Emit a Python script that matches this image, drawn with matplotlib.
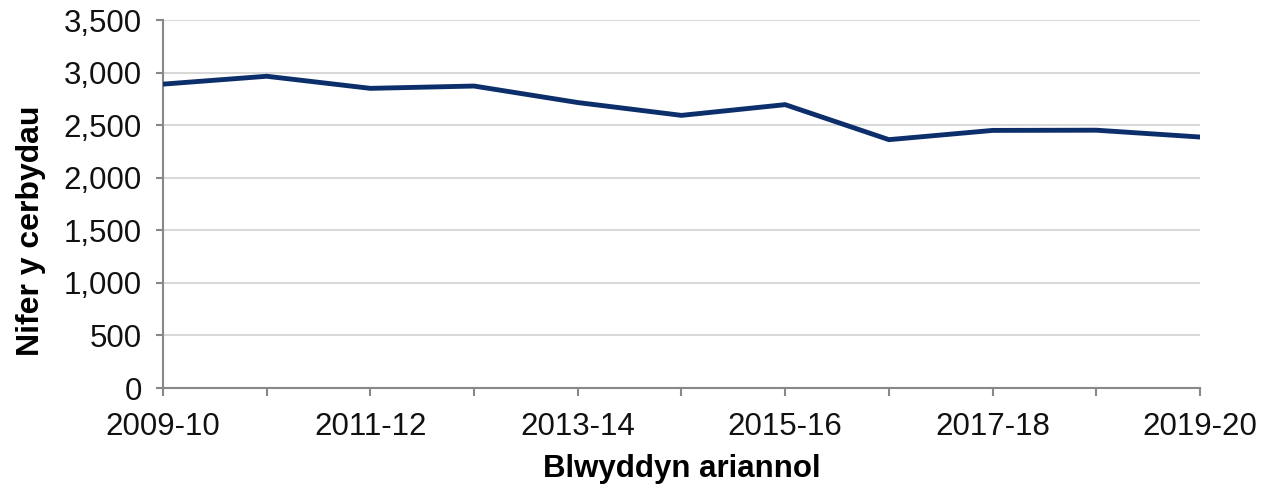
import matplotlib
matplotlib.use("Agg")
import matplotlib.pyplot as plt
from matplotlib.ticker import FuncFormatter

plt.rcParams['font.family'] = ['Liberation Sans', 'DejaVu Sans']

# Data
years = ['2009-10', '2010-11', '2011-12', '2012-13', '2013-14', '2014-15',
         '2015-16', '2016-17', '2017-18', '2018-19', '2019-20']
vehicles = [2890, 2965, 2850, 2872, 2715, 2593, 2695, 2362, 2450, 2452, 2387]

fig = plt.figure(figsize=(12.7, 4.88), dpi=100)
ax = fig.add_axes([0.1283, 0.2049, 0.8166, 0.7541])

x = list(range(len(years)))
ax.plot(x, vehicles, color='#0c2f6b', linewidth=3.5, solid_joinstyle='miter', zorder=3)

ax.set_xlim(0, len(years) - 1)
ax.set_ylim(0, 3500)
ax.set_yticks(range(0, 3501, 500))
ax.yaxis.set_major_formatter(FuncFormatter(lambda v, p: f"{int(v):,}"))
ax.set_xticks(x)
ax.set_xticklabels([y if i % 2 == 0 else '' for i, y in enumerate(years)])

ax.grid(axis='y', color='#d9d9d9', linewidth=1.5, zorder=0)
ax.set_axisbelow(True)
for s in ['top', 'right']:
    ax.spines[s].set_visible(False)
for s in ['left', 'bottom']:
    ax.spines[s].set_color('#888888')
    ax.spines[s].set_linewidth(1.5)
ax.tick_params(axis='both', colors='#888888', width=1.5, labelcolor='#111111',
               labelsize=22.5)
ax.tick_params(axis='x', length=6, pad=11)
ax.tick_params(axis='y', length=5, pad=10)

ax.set_xlabel('Blwyddyn ariannol', fontsize=22.5, fontweight='bold', labelpad=9)
ax.set_ylabel('Nifer y cerbydau', fontsize=23, fontweight='bold')
ax.yaxis.set_label_coords(-0.113, 0.427)

fig.savefig('out.png', dpi=100)
